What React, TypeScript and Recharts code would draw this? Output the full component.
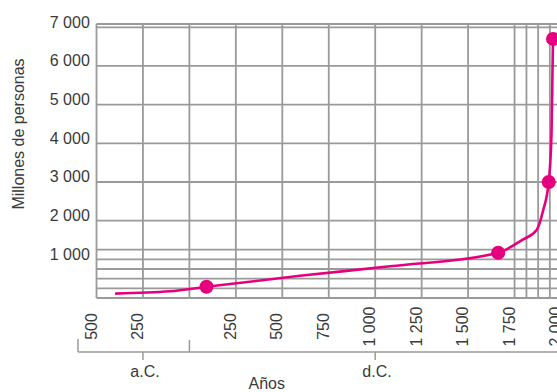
import { LineChart, Line, XAxis, YAxis, CartesianGrid } from "recharts"

// positions (years; a.C. negative)
const years = [-400, -105, 92, 595, 1080, 1662, 1794, 1868, 1904, 1934, 1949, 1957]
// millions of people
const population = [114, 173, 290, 574, 820, 1170, 1510, 1750, 2270, 3000, 4260, 6700]
const markedYears = [92, 1662, 1934, 1957]

const xTicks = [-500, -250, 0, 250, 500, 750, 1000, 1250, 1500, 1750, 1814, 1877, 1940, 2000]
const xTickLabels = ["500", "250", "", "250", "500", "750", "1 000", "1 250", "1 500", "1 750", "", "", "", "2 000"]
const yTicks = [0, 250, 500, 750, 1000, 1250, 2000, 3000, 4000, 5000, 6000, 7000]
const yTickLabels = ["", "", "", "", "1 000", "", "2 000", "3 000", "4 000", "5 000", "6 000", "7 000"]

const data = years.map((year, i) => ({ year, population: population[i] }))

// let the picture use the full window, the 8px offset is kept by the wrapper below
if (typeof document !== "undefined") document.body.style.margin = "0"

const W = 553
const H = 384
const YW = 88.5
const TOP = 16
const XH = 60
const PLOT_BOTTOM = 290
const X_MIN = -500
const X_MAX = 2000
const PINK = "#e6007e"
const GRID = "#9a9a9a"
const TEXT = "#3a3a3a"
const FONT = "'Liberation Sans', Arial, sans-serif"

const xPos = (year: number) => YW + ((year - X_MIN) * (W - YW)) / (X_MAX - X_MIN)

const XTick = (props: any) => {
  const i = xTicks.indexOf(props.payload.value)
  const label = xTickLabels[i]
  if (!label) return <g />
  return (
    <text
      transform={`translate(${props.x},${PLOT_BOTTOM + 28.5}) rotate(-90)`}
      textAnchor="middle"
      fontSize={16}
      fontFamily={FONT}
      fill={TEXT}
    >
      {label}
    </text>
  )
}

const YTick = (props: any) => {
  const i = yTicks.indexOf(props.payload.value)
  const label = yTickLabels[i]
  if (!label) return <g />
  return (
    <text x={YW - 6.7} y={props.y + 0.5} textAnchor="end" fontSize={16} fontFamily={FONT} fill={TEXT}>
      {label}
    </text>
  )
}

const renderDot = (props: any) => {
  if (!markedYears.includes(props.payload.year)) return <g key={props.index} />
  return <circle key={props.index} cx={props.cx} cy={props.cy} r={7} fill={PINK} />
}

export default function App() {
  return (
    <div style={{ width: 557, height: 392, overflow: "hidden", background: "#fff" }}>
      <div style={{ position: "relative", left: 8, top: 8, width: 549, height: H, overflow: "hidden" }}>
        <LineChart
          width={W}
          height={H}
          data={data}
          margin={{ top: TOP, right: 0, bottom: H - PLOT_BOTTOM - XH, left: 0 }}
        >
          <CartesianGrid stroke={GRID} strokeWidth={1.8} />
          <XAxis
            dataKey="year"
            type="number"
            domain={[X_MIN, X_MAX]}
            ticks={xTicks}
            interval={0}
            height={XH}
            axisLine={false}
            tickLine={false}
            tick={<XTick />}
          />
          <YAxis
            type="number"
            domain={[0, 7085]}
            ticks={yTicks}
            interval={0}
            width={YW}
            axisLine={false}
            tickLine={false}
            tick={<YTick />}
          />
          <Line
            dataKey="population"
            type="monotone"
            stroke={PINK}
            strokeWidth={2.6}
            dot={renderDot}
            activeDot={false}
            isAnimationActive={false}
          />
        </LineChart>
        <svg
          width={549}
          height={H}
          style={{ position: "absolute", left: 0, top: 0, pointerEvents: "none" }}
          fontFamily={FONT}
          fontSize={16}
          fill={TEXT}
        >
          <text transform="translate(15.5,126) rotate(-90)" textAnchor="middle">
            Millones de personas
          </text>
          <g stroke={GRID} strokeWidth={1.5}>
            <line x1={70} y1={344} x2={549} y2={344} />
            <line x1={70} y1={331} x2={70} y2={344} />
            <line x1={xPos(0)} y1={332} x2={xPos(0)} y2={344} />
            <line x1={xPos(-250)} y1={344} x2={xPos(-250)} y2={352} />
            <line x1={xPos(1000)} y1={344} x2={xPos(1000)} y2={352} />
          </g>
          <text x={137} y={368.5} textAnchor="middle">a.C.</text>
          <text x={369} y={368.5} textAnchor="middle">d.C.</text>
          <text x={258.7} y={381} textAnchor="middle">Años</text>
        </svg>
      </div>
    </div>
  )
}
